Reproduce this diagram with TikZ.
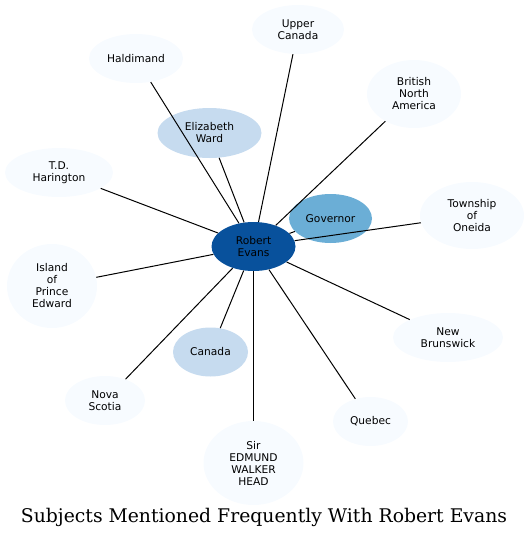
\documentclass[tikz,border=0pt]{standalone}
\usepackage{fontspec}
\newfontfamily\nodefont{DejaVu Sans}
\newfontfamily\titlefont{DejaVu Serif}
\usetikzlibrary{shapes.geometric}
\definecolor{cdark}{HTML}{08519C}
\definecolor{cmid}{HTML}{6BAED6}
\definecolor{clight}{HTML}{C6DBEF}
\definecolor{cpale}{HTML}{F7FBFF}
\tikzset{
  ent/.style 2 args={ellipse, inner sep=0pt, align=center,
    font=\nodefont\fontsize{8}{9}\selectfont,
    minimum width=#1*1.5pt, minimum height=#2*1.5pt},
  pale/.style={fill=cpale},
  light/.style={fill=clight},
  mid/.style={fill=cmid},
  dark/.style={fill=cdark},
  link/.style={draw=black, line width=0.75pt},
}
\begin{document}
\begin{tikzpicture}[x=0.75pt, y=-0.75pt]
\useasboundingbox (0,0) rectangle (530,540);
\node[ent={42}{24.5}, dark] (re) at (253.5,246.5) {Robert\\Evans};
\node[ent={41.5}{24.5}, mid] (gov) at (330.5,218.5) {Governor};
\node[ent={52}{25}, light] (ew) at (209.5,133) {Elizabeth\\Ward};
\node[ent={37.5}{24.5}, light] (can) at (210.5,352) {Canada};
\node[ent={46}{24.5}, pale] (uc) at (298,29.5) {Upper\\Canada};
\node[ent={47}{24.5}, pale] (hal) at (136,58.5) {Haldimand};
\node[ent={47}{34}, pale] (bna) at (414,94) {British\\North\\America};
\node[ent={54}{24.5}, pale] (tdh) at (59,172.5) {T.D.\\Harington};
\node[ent={52}{33.5}, pale] (two) at (472,215.5) {Township\\of\\Oneida};
\node[ent={45}{42}, pale] (ipe) at (52,286) {Island\\of\\Prince\\Edward};
\node[ent={55}{24.5}, pale] (nb) at (448,337.5) {New\\Brunswick};
\node[ent={40}{24.5}, pale] (ns) at (105,400.5) {Nova\\Scotia};
\node[ent={37.5}{24.5}, pale] (que) at (370.5,421.5) {Quebec};
\node[ent={50}{42}, pale] (sewh) at (253.5,463) {Sir\\EDMUND\\WALKER\\HEAD};
\foreach \t in {gov,ew,can,uc,hal,bna,tdh,two,ipe,nb,ns,que,sewh}
  \draw[link] (re) -- (\t);
\node[anchor=base, font=\titlefont\fontsize{14.1}{16}\selectfont, inner sep=0pt] (title) at (264,522) {Subjects Mentioned Frequently With Robert Evans};
\end{tikzpicture}
\end{document}
